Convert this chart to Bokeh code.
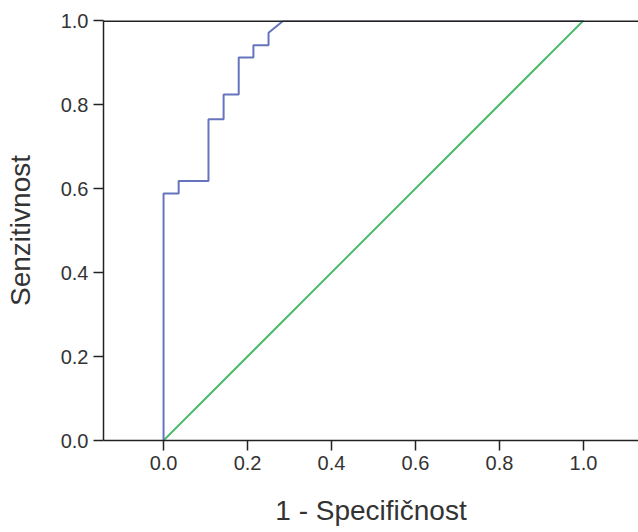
from bokeh.plotting import figure
from bokeh.models import Range1d, Span, FixedTicker, PrintfTickFormatter
from bokeh.embed import file_html
from bokeh.resources import INLINE

# ROC curve vertices (1 - specificity, sensitivity)
roc_fpr = [0.0, 0.0, 0.036, 0.036, 0.107, 0.107, 0.143, 0.143, 0.179, 0.179,
           0.214, 0.214, 0.25, 0.25, 0.286, 1.0]
roc_tpr = [0.0, 0.588, 0.588, 0.618, 0.618, 0.765, 0.765, 0.824, 0.824, 0.912,
           0.912, 0.941, 0.941, 0.971, 1.0, 1.0]
# reference (chance) line
ref_x = [0.0, 1.0]
ref_y = [0.0, 1.0]
ticks = [0.0, 0.2, 0.4, 0.6, 0.8, 1.0]

FONT = "Liberation Sans"
p = figure(width=638, height=532, output_backend="svg", toolbar_location=None,
           x_range=Range1d(-0.143, 1.131), y_range=Range1d(0.0, 1.0),
           min_border_left=103, min_border_right=0, min_border_top=20,
           min_border_bottom=92)
p.outline_line_color = None
p.grid.visible = False
p.background_fill_color = "white"

for ax in (p.xaxis[0], p.yaxis[0]):
    ax.ticker = FixedTicker(ticks=ticks)
    ax.formatter = PrintfTickFormatter(format="%.1f")
    ax.minor_tick_line_color = None
    ax.major_tick_in = 0
    ax.major_tick_out = 10
    ax.axis_line_color = "#222222"
    ax.axis_line_width = 1.5
    ax.major_tick_line_color = "#222222"
    ax.major_tick_line_width = 1.5
    ax.major_label_text_font = FONT
    ax.major_label_text_font_size = "20px"
    ax.major_label_text_color = "#333333"
    ax.axis_label_text_font = FONT
    ax.axis_label_text_font_size = "28px"
    ax.axis_label_text_font_style = "normal"
    ax.axis_label_text_color = "#333333"

p.xaxis.axis_label = "1 - Specifičnost"
p.yaxis.axis_label = "Senzitivnost"
p.xaxis.major_label_standoff = 5
p.yaxis.major_label_standoff = 5
p.xaxis.axis_label_standoff = 22
p.yaxis.axis_label_standoff = 22

p.add_layout(Span(location=1.0, dimension="width", line_color="#222222", line_width=3))

p.line(ref_x, ref_y, line_color="#4DBA6B", line_width=2)
p.line(roc_fpr, roc_tpr, line_color="#6674BE", line_width=2)

open("out.html", "w").write(file_html(p, INLINE))
